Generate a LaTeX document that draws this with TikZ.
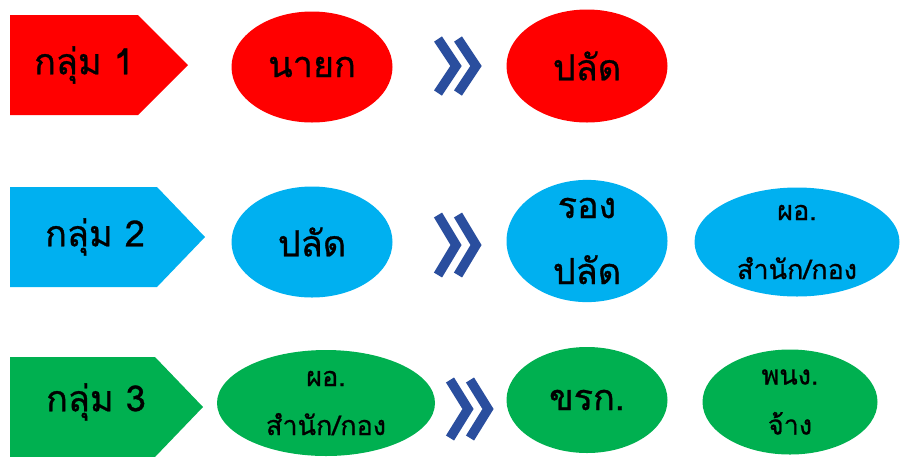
\documentclass[tikz,border=0pt]{standalone}
\usepackage{fontspec}
\newfontfamily\thaifont[Script=Thai, FakeBold=0.8]{Loma}
\usepackage{tikz}
\usetikzlibrary{shapes.geometric,positioning}
\definecolor{grpred}{HTML}{FF0000}
\definecolor{grpblue}{HTML}{00B0F0}
\definecolor{grpgreen}{HTML}{00B050}
\definecolor{chevblue}{HTML}{2A4E9E}
\tikzset{
    tag/.style={inner sep=0pt, font=\thaifont\fontsize{36}{40}\selectfont},
    role/.style={
        ellipse, inner sep=0pt, align=center,
        font=\thaifont\fontsize{36}{66}\selectfont
    },
    rolesmall/.style={font=\thaifont\fontsize{27}{#1}\selectfont},
    chevron/.style={draw=chevblue, line width=9.5pt, line join=miter}
}
\begin{document}
\begin{tikzpicture}[x=1pt,y=-1pt]
\useasboundingbox (0,0) rectangle (901,456);

% Group tags
\fill[grpred]   (10,15)  -- (138,15)  -- (188,65)  -- (138,115) -- (10,115) -- cycle;
\fill[grpblue]  (10,187) -- (157,187) -- (205,237) -- (157,287) -- (10,287) -- cycle;
\fill[grpgreen] (10,357) -- (155,357) -- (203,407) -- (155,457) -- (10,457) -- cycle;
\node[tag] (group1) at (84,65)  {กลุ่ม 1};
\node[tag] (group2) at (95,237) {กลุ่ม 2};
\node[tag] (group3) at (96,402) {กลุ่ม 3};

% Row 1
\node[role, fill=grpred, minimum width=161pt, minimum height=111pt] (nayok)  at (312,67) {นายก};
\node[role, fill=grpred, minimum width=161pt, minimum height=113pt] (palad1) at (587,66) {ปลัด};

% Row 2
\node[role, fill=grpblue, minimum width=161pt, minimum height=111pt] (palad2)    at (312,242) {ปลัด};
\node[role, fill=grpblue, minimum width=161pt, minimum height=113pt] (rongpalad) at (587,241) {รอง\\ปลัด};
\node[role, rolesmall=59, fill=grpblue, minimum width=205pt, minimum height=109pt] (director2) at (797,242) {ผอ.\\สำนัก/กอง};

% Row 3
\node[role, rolesmall=49, fill=grpgreen, minimum width=218pt, minimum height=106pt] (director3) at (326,403) {ผอ.\\สำนัก/กอง};
\node[role, fill=grpgreen, minimum width=161pt, minimum height=106pt] (officer) at (587,400) {ขรก.};
\node[role, rolesmall=50, fill=grpgreen, minimum width=175pt, minimum height=105pt] (staff) at (790,402) {พนง.\\จ้าง};

% Chevrons between levels
\foreach \cx/\cy/\ch in {433/66/27, 433/245/30, 445/409/29}
  \foreach \dx in {0,20}
    \draw[chevron] (\cx+\dx+5,\cy-\ch) -- (\cx+\dx+23,\cy) -- (\cx+\dx+5,\cy+\ch);

\end{tikzpicture}
\end{document}
